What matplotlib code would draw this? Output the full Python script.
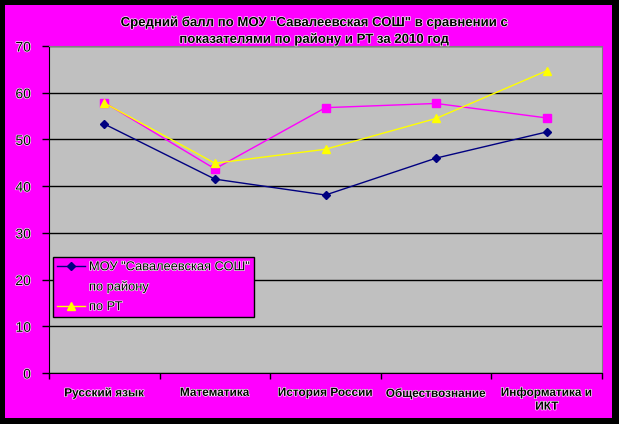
import matplotlib.pyplot as plt
import matplotlib.patheffects as pe
import numpy as np

# Data
categories = ['Русский язык', 'Математика', 'История России',
              'Обществознание', 'Информатика и\nИКТ']
school = [53.3, 41.5, 38.1, 46.0, 51.6]
district = [57.9, 43.7, 56.8, 57.7, 54.6]
republic = [57.8, 44.9, 47.9, 54.5, 64.7]
series_names = ['МОУ "Савалеевская СОШ"', 'по району', 'по РТ']
yticks = [0, 10, 20, 30, 40, 50, 60, 70]

plt.rcParams['font.family'] = ['Liberation Sans', 'DejaVu Sans']
outline = [pe.withStroke(linewidth=0.9, foreground='white')]
magenta = '#FF00FF'

fig = plt.figure(figsize=(6.19, 4.24), dpi=100, facecolor='black')
W, H = 619, 424
# magenta chart area inside black frame
bg = fig.add_axes([5 / W, 1 - 418 / H, 607 / W, 413 / H])
bg.set_facecolor(magenta)
bg.set_xticks([])
bg.set_yticks([])
for s in bg.spines.values():
    s.set_visible(False)

ax = fig.add_axes([49 / W, 1 - 373 / H, 553 / W, 327 / H])
ax.set_facecolor('#C0C0C0')

x = np.arange(len(categories))
ax.plot(x, school, color='#000080', marker='D', markersize=4.5, lw=1,
        label=series_names[0])
ax.plot(x, district, color=magenta, marker='s', markersize=5.5, lw=1,
        label=series_names[1])
ax.plot(x, republic, color='#FFFF00', marker='^', markersize=6, lw=1,
        label=series_names[2])

ax.set_xlim(-0.5, len(categories) - 0.5)
ax.set_ylim(0, 70)
ax.set_yticks(yticks)
ax.set_yticklabels([str(v) for v in yticks], fontsize=10)
ax.yaxis.grid(True, color='black', lw=1)
ax.set_axisbelow(True)

ax.set_xticks(np.arange(len(categories) + 1) - 0.5)
ax.set_xticklabels([])
ax.set_xticks(x, minor=True)
ax.set_xticklabels(categories, minor=True, fontsize=8.5, fontweight='bold')
ax.tick_params(axis='x', which='minor', length=0, pad=10)
ax.tick_params(axis='x', which='major', length=4, width=1, color='black')
ax.tick_params(axis='y', length=5, width=1, color='black', pad=8)

for lbl in ax.get_xticklabels(minor=True) + ax.get_yticklabels():
    lbl.set_path_effects(outline)

ax.spines['left'].set_color('black')
ax.spines['bottom'].set_color('black')
ax.spines['top'].set_color('#808080')
ax.spines['right'].set_color('#808080')

fig.text(314 / W, 1 - 31 / H,
         'Средний балл по МОУ "Савалеевская СОШ" в сравнении с\n'
         'показателями по району и РТ за 2010 год',
         ha='center', va='center', fontsize=9.5, fontweight='bold',
         linespacing=1.45, path_effects=outline)

leg = ax.legend(loc='lower left', bbox_to_anchor=(4 / 553, 56 / 327),
                frameon=True, fancybox=False, fontsize=9.25,
                borderpad=0.3, labelspacing=0.6, handlelength=2.2,
                handletextpad=0.3, borderaxespad=0)
leg.get_frame().set_facecolor(magenta)
leg.get_frame().set_edgecolor('black')
leg.get_frame().set_alpha(1)
leg.get_frame().set_linewidth(1)
for t in leg.get_texts():
    t.set_path_effects(outline)

fig.savefig('out.png', dpi=100, facecolor='black')
